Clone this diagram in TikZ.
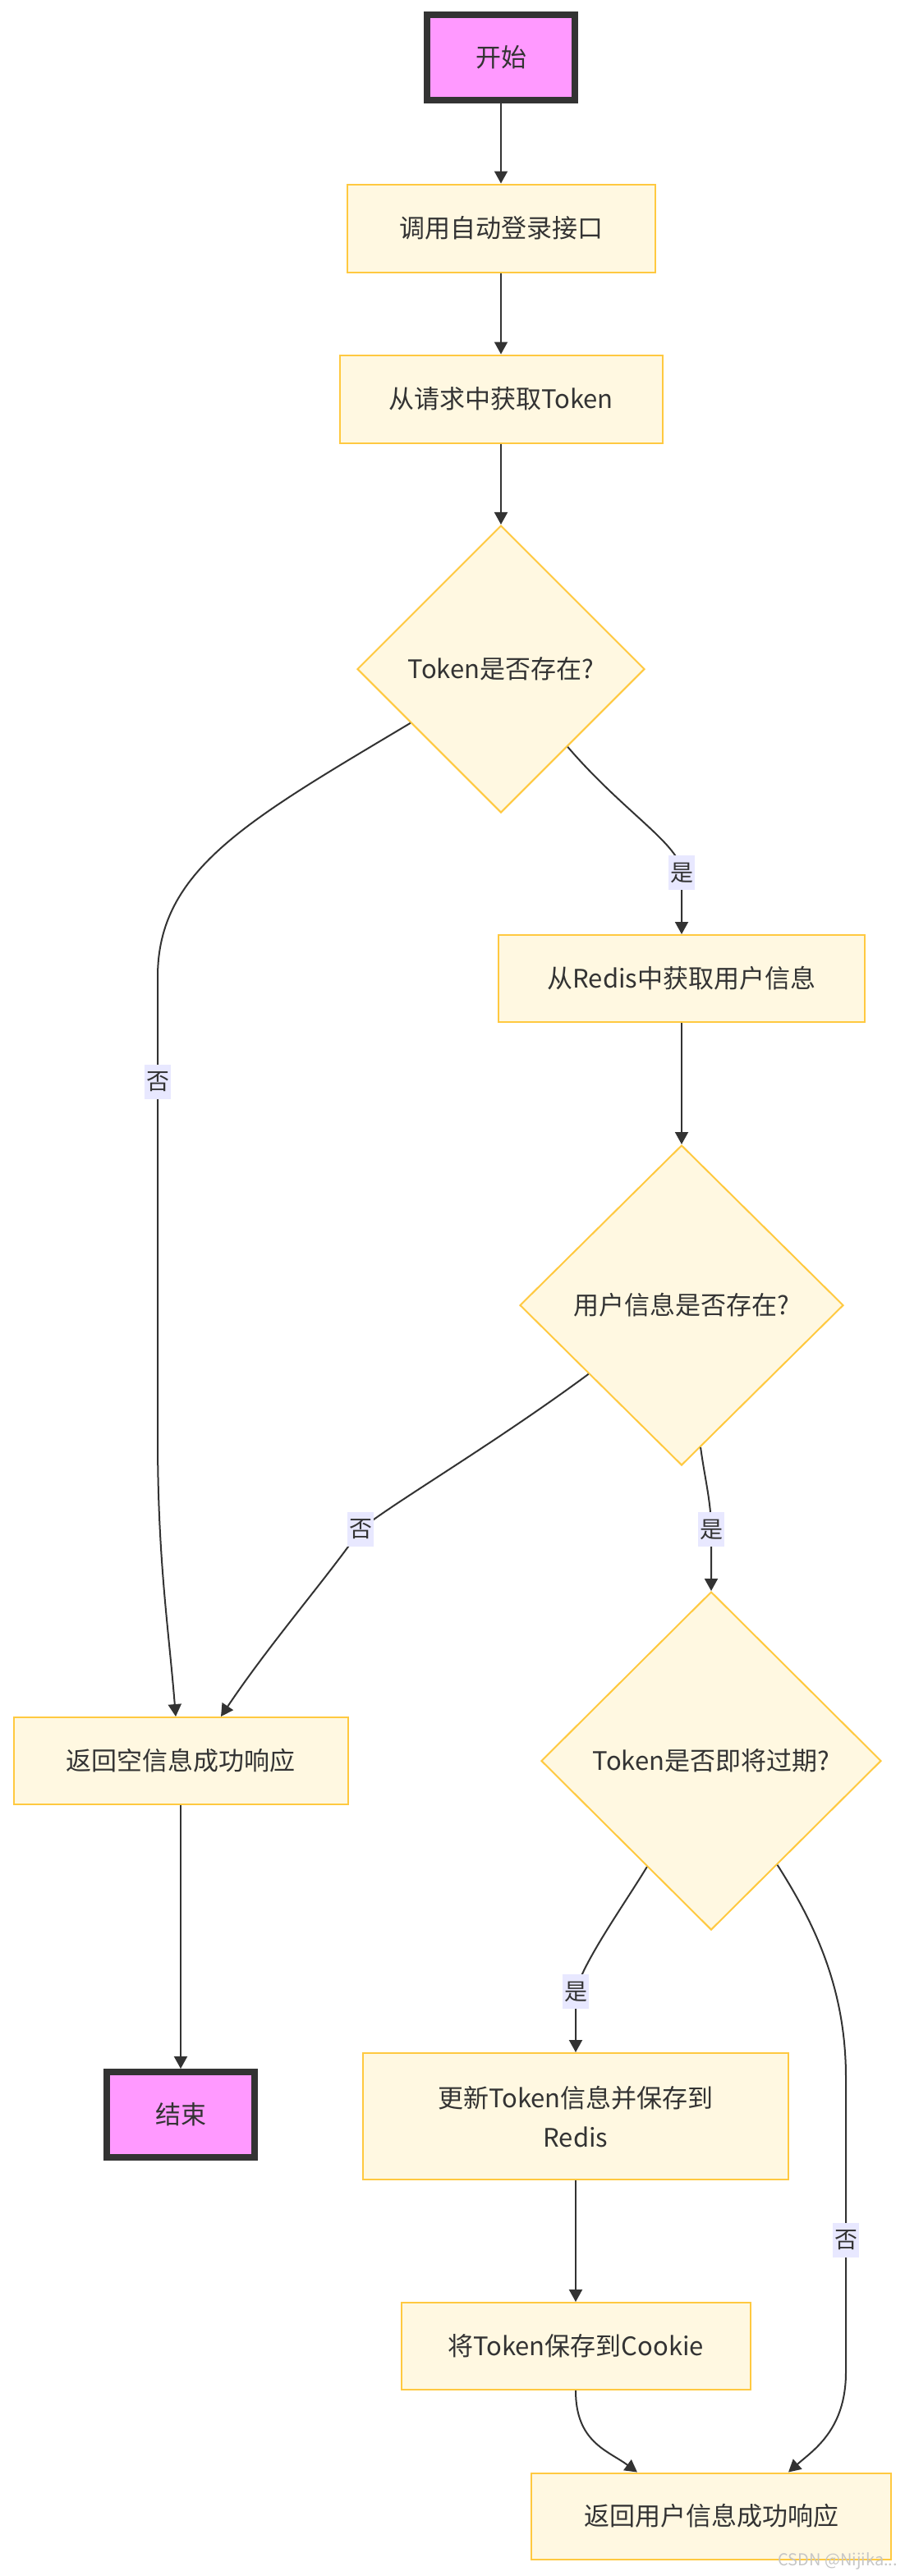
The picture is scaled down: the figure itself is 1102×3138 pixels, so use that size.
\documentclass[tikz,border=0pt]{standalone}
\usepackage{fontspec}
\setmainfont{Noto Sans CJK SC}
\usetikzlibrary{shapes.geometric,arrows.meta}
\definecolor{nodefill}{HTML}{FFF8E1}
\definecolor{nodeline}{HTML}{FFC940}
\definecolor{termfill}{HTML}{FF99FF}
\definecolor{ink}{HTML}{333333}
\definecolor{lblbg}{HTML}{E8E8FF}

\begin{document}
\begin{tikzpicture}[x=0.5pt,y=-0.5pt,
    proc/.style={rectangle, fill=nodefill, draw=nodeline, line width=1pt,
        text=ink, font=\fontsize{15.5}{24}\selectfont, align=center, inner sep=0pt},
    term/.style={rectangle, fill=termfill, draw=ink, line width=4pt,
        text=ink, font=\fontsize{15.5}{24}\selectfont, inner sep=0pt,
        minimum width=90pt, minimum height=52pt},
    decide/.style={diamond, aspect=1, fill=nodefill, draw=nodeline, line width=1pt,
        text=ink, font=\fontsize{15.5}{24}\selectfont, inner sep=0pt},
    flow/.style={draw=ink, line width=1pt, -{Triangle[length=7.5pt,width=8pt]}},
    lbl/.style={fill=lblbg, text=ink, font=\fontsize{14}{16}\selectfont,
        inner xsep=1pt, inner ysep=4.5pt}]
    \useasboundingbox (0,0) rectangle (1102,3138);

    \node[term] (start) at (610,70) {开始};
    \node[proc, minimum width=187.5pt, minimum height=53.5pt] (call) at (610,278) {调用自动登录接口};
    \node[proc, minimum width=196.5pt, minimum height=53.5pt] (gettoken) at (610,486) {从请求中获取Token};
    \node[decide, minimum width=175pt, minimum height=175pt] (hastoken) at (610,815) {Token是否存在?};
    \node[proc, minimum width=223pt, minimum height=53pt] (getuser) at (830,1192) {从Redis中获取用户信息};
    \node[decide, minimum width=197pt, minimum height=195pt] (hasuser) at (830,1590) {用户信息是否存在?};
    \node[decide, minimum width=207pt, minimum height=206pt] (expiring) at (866,2145) {Token是否即将过期?};
    \node[proc, minimum width=203.5pt, minimum height=53pt] (emptyresp) at (220,2145) {返回空信息成功响应};
    \node[term] (finish) at (220,2576) {结束};
    \node[proc, minimum width=259pt, minimum height=77pt] (refresh) at (701,2578) {更新Token信息并保存到\\Redis};
    \node[proc, minimum width=212.5pt, minimum height=53pt] (cookie) at (701,2858) {将Token保存到Cookie};
    \node[proc, minimum width=219pt, minimum height=52.5pt] (userresp) at (866,3065) {返回用户信息成功响应};

    \draw[flow] (start) -- (call);
    \draw[flow] (call) -- (gettoken);
    \draw[flow] (gettoken) -- (hastoken);
    \draw[flow] (hastoken) .. controls (300,1000) and (192,1060) .. (192,1190)
        -- (192,1318) node[lbl] {否} -- (192,1750)
        .. controls (192,1900) and (205,1980) .. ([xshift=-3pt]emptyresp.north);
    \draw[flow] (hastoken) .. controls (760,990) and (830,1030) .. (830,1063) node[lbl] {是}
        -- (getuser.north);
    \draw[flow] (getuser) -- (hasuser);
    \draw[flow] (hasuser) .. controls (600,1760) and (480,1830) .. (439,1863) node[lbl] {否}
        .. controls (400,1920) and (330,2000) .. ([xshift=24.5pt]emptyresp.north);
    \draw[flow] (hasuser) .. controls (858,1800) and (866,1830) .. (866,1863) node[lbl] {是}
        -- (expiring.north);
    \draw[flow] (expiring) .. controls (760,2320) and (710,2390) .. (701,2426) node[lbl] {是}
        -- (refresh.north);
    \draw[flow] (expiring) .. controls (990,2340) and (1030,2420) .. (1030,2530)
        -- (1030,2729) node[lbl] {否} -- (1030,2890)
        .. controls (1030,2960) and (990,2985) .. ([xshift=47pt]userresp.north);
    \draw[flow] (refresh) -- (cookie);
    \draw[flow] (cookie.south) .. controls (701,2975) and (740,2985) .. ([xshift=-45pt]userresp.north);
    \draw[flow] (emptyresp) -- (finish);

    \node[anchor=east, text=gray!45, font=\fontsize{10}{12}\selectfont] (mark) at (1100,3120) {CSDN @Nijika...};
\end{tikzpicture}
\end{document}
